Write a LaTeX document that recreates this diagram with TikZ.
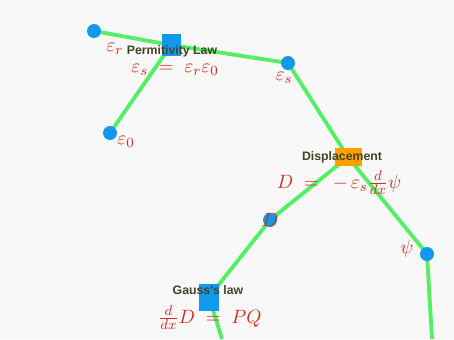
\documentclass[tikz,border=0pt]{standalone}
\usepackage{amsmath}
\usepackage{fontspec}
\newfontfamily\lawfont{Liberation Sans}
\usetikzlibrary{positioning, backgrounds}
\definecolor{wire}{HTML}{55EE66}
\definecolor{dotblue}{HTML}{1199EE}
\definecolor{laworange}{HTML}{FFA000}
\definecolor{eqred}{HTML}{CC3322}
\definecolor{lawtext}{HTML}{444422}
\definecolor{canvas}{HTML}{F8F8F8}

\begin{document}
\begin{tikzpicture}[x=0.02cm, y=-0.02cm,
  var/.style={circle, fill=dotblue, minimum size=0.28cm, inner sep=0pt},
  law/.style={rectangle, fill=dotblue, inner sep=0pt},
  lawname/.style={font=\lawfont\bfseries\fontsize{7}{8}\selectfont, text=lawtext, inner sep=0pt},
  eq/.style={text=eqred, inner sep=0pt, font=\fontsize{11}{12}\selectfont},
  wirestyle/.style={wire, line width=2.2pt}
]

% === Canvas ===
\begin{scope}[on background layer]
  \fill[canvas] (0,0) rectangle (454,339);
\end{scope}
\useasboundingbox (0,0) rectangle (454,339);

% === Variables and laws ===
\node[var] (er) at (94, 31) {};
\node[var] (e0) at (110, 133) {};
\node[var] (es) at (288, 63) {};
\node[var] (Dv) at (270, 220) {};
\node[var] (psi) at (427, 254) {};

\node[law, minimum width=19*0.02cm, minimum height=22*0.02cm] (perm) at (171, 45) {};
\node[law, fill=laworange, minimum width=27*0.02cm, minimum height=18*0.02cm] (disp) at (348, 157) {};
\node[law, minimum width=20*0.02cm, minimum height=27*0.02cm] (gauss) at (209, 297) {};

\coordinate (gout) at (222, 339);
\coordinate (pout) at (432, 339);

% === Wires ===
\begin{scope}[on background layer]
  \draw[wirestyle] (er.center) -- (perm.center) -- (es.center);
  \draw[wirestyle] (e0.center) -- (perm.center);
  \draw[wirestyle] (es.center) -- (disp.center);
  \draw[wirestyle] (disp.center) -- (Dv.center) -- (gauss.center) -- (gout);
  \draw[wirestyle] (disp.center) -- (psi.center) -- (pout);
\end{scope}

% === Labels ===
\node[eq] at (115, 49) {$\varepsilon_r$};
\node[eq] at (126, 142) {$\varepsilon_0$};
\node[eq] at (284, 78) {$\varepsilon_s$};
\node[eq] at (270, 220) {$D$};
\node[eq] at (407, 249) {$\psi$};

\node[lawname] at (172, 51) {Permitivity Law};
\node[eq] at (175, 70) {$\varepsilon_s\;=\;\varepsilon_r\varepsilon_0$};

\node[lawname] at (342, 157) {Displacement};
\node[eq] at (339, 183) {$D\;=\;\,-\,\varepsilon_s\tfrac{d}{dx}\psi$};

\node[lawname] at (208, 290) {Gauss's law};
\node[eq] at (210, 318) {$\tfrac{d}{dx}D\;=\;PQ$};

\end{tikzpicture}
\end{document}
